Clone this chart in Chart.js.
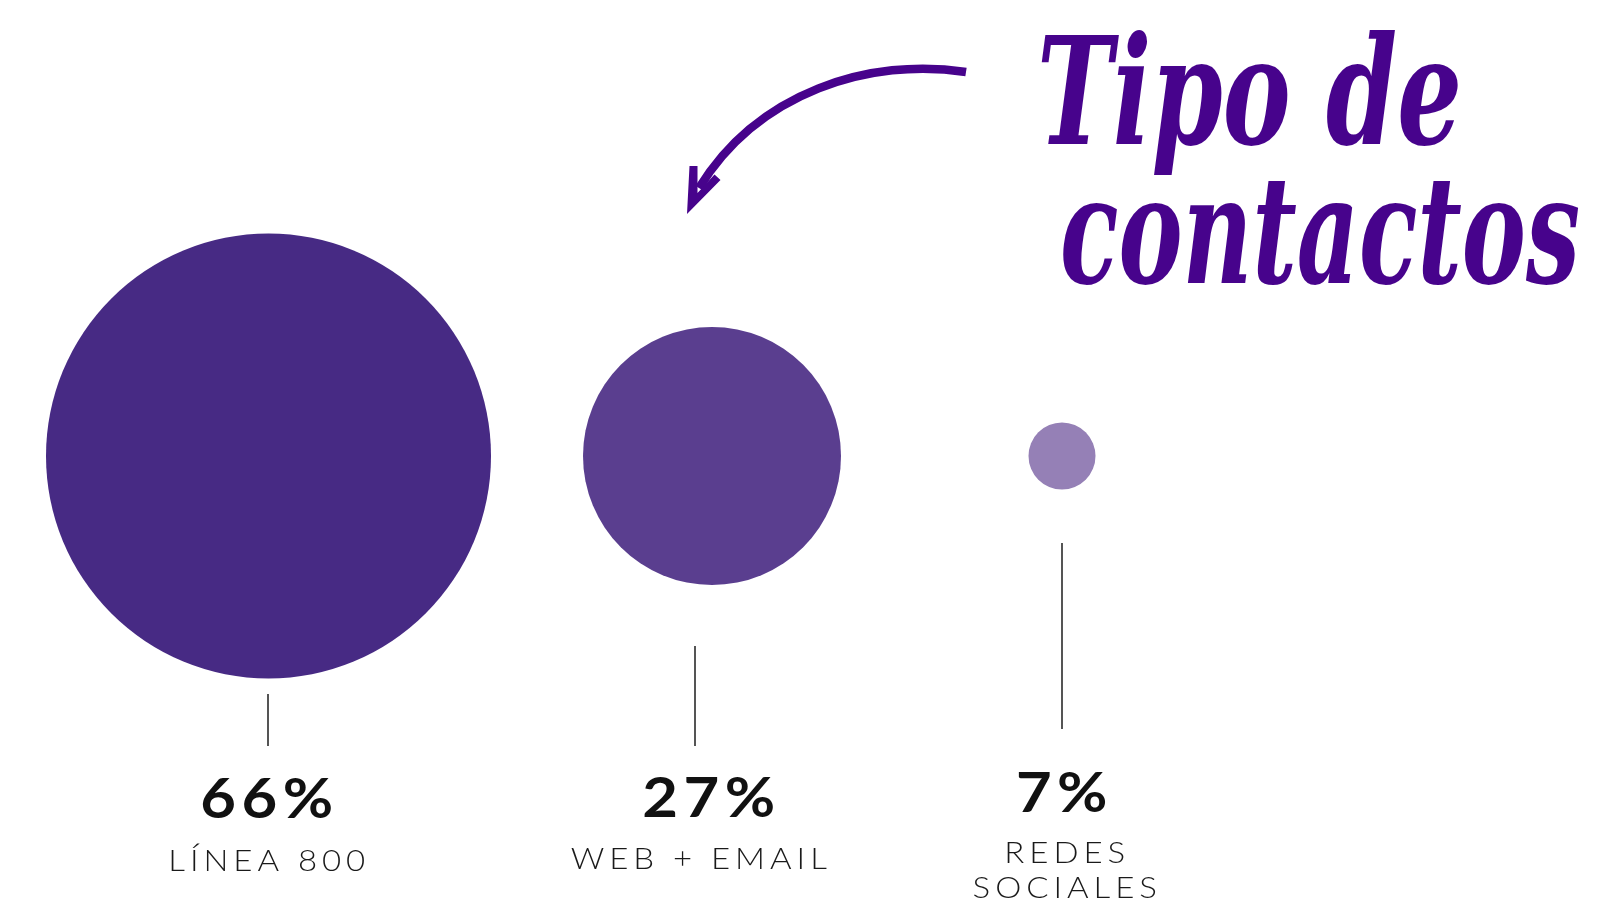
<!DOCTYPE html>
<html lang="es">
<head>
<meta charset="utf-8">
<title>Tipo de contactos</title>
<script src="https://cdn.jsdelivr.net/npm/chart.js@4.4.1/dist/chart.umd.min.js"></script>
<style>
  html, body { margin: 0; padding: 0; background: #fff; overflow: hidden; }
  #wrap { width: 1614px; height: 908px; }
</style>
</head>
<body>
<div id="wrap"><canvas id="contactChart" width="1614" height="908"></canvas></div>
<script>
// datos
const categories = ["LÍNEA 800", "WEB + EMAIL", "REDES SOCIALES"];
const shares = [66, 27, 7];
const labelLines = [["LÍNEA 800"], ["WEB + EMAIL"], ["REDES", "SOCIALES"]];
const titleLines = ["Tipo de", "contactos"];

// layout (x en unidades de la escala 0..1614)
const bubbleX = [268.5, 712, 1062];
const bubbleY = 456;
const bubbleR = [222.5, 129, 33.5];
const colors = ["#472a84", "#5a3e8f", "#9580b6"];
const leaderX = [268, 695, 1062];
const leaderTop = [694, 646, 543];
const leaderBottom = [746, 746, 729];
const pctX = [267, 709, 1062];
const pctBase = [818, 817, 812];
const labelX = [267, 699, 1065];
const labelBase = [[871], [869], [863, 898]];

const PURPLE = "#47038c";

function drawFitted(ctx, text, left, right, baseline) {
  ctx.save();
  ctx.font = "italic bold 150px 'DejaVu Serif'";
  ctx.textAlign = "left";
  ctx.textBaseline = "alphabetic";
  const w = ctx.measureText(text).width;
  ctx.translate(left, baseline);
  ctx.scale((right - left) / w, 1);
  ctx.fillStyle = PURPLE;
  ctx.fillText(text, 0, 0);
  ctx.restore();
}

function drawArrow(ctx) {
  ctx.save();
  ctx.strokeStyle = PURPLE;
  ctx.fillStyle = PURPLE;
  ctx.lineWidth = 8.5;
  ctx.beginPath();
  ctx.moveTo(966, 72);
  ctx.bezierCurveTo(870, 57, 758, 92, 699, 188);
  ctx.stroke();

  // punta
  ctx.beginPath();
  ctx.moveTo(689.5, 166);
  ctx.lineTo(697.5, 166);
  ctx.lineTo(697.5, 193);
  ctx.lineTo(714.5, 174.5);
  ctx.lineTo(720.5, 180);
  ctx.lineTo(687, 214);
  ctx.closePath();
  ctx.fill();
  ctx.restore();
}

// texto centrado con escala horizontal
function drawWide(ctx, text, x, y, sx, spacing) {
  ctx.save();
  ctx.translate(x + spacing / 2, y);
  ctx.scale(sx, 1);
  ctx.fillText(text, 0, 0);
  ctx.restore();
}

const annotationPlugin = {
  id: "annotations",
  afterDatasetsDraw(chart) {
    const ctx = chart.ctx;
    const xs = chart.scales.x;
    const ys = chart.scales.y;

    ctx.save();
    // lineas guia
    ctx.strokeStyle = "#555555";
    ctx.lineWidth = 2;
    leaderX.forEach((x, i) => {
      const px = xs.getPixelForValue(x);
      ctx.beginPath();
      ctx.moveTo(px, ys.getPixelForValue(leaderTop[i]));
      ctx.lineTo(px, ys.getPixelForValue(leaderBottom[i]));
      ctx.stroke();
    });

    ctx.textAlign = "center";
    ctx.textBaseline = "alphabetic";

    // porcentajes
    ctx.fillStyle = "#111111";
    ctx.font = "bold 56px Lato";
    ctx.letterSpacing = "5px";
    shares.forEach((v, i) => {
      drawWide(ctx, v + "%", xs.getPixelForValue(pctX[i]), ys.getPixelForValue(pctBase[i]), 1.1, 5);
    });

    // etiquetas
    ctx.fillStyle = "#1a1a1a";
    ctx.font = "300 30px Lato";
    ctx.letterSpacing = "4.5px";
    labelLines.forEach((lines, i) => {
      lines.forEach((line, j) => {
        drawWide(ctx, line, xs.getPixelForValue(labelX[i]), ys.getPixelForValue(labelBase[i][j]), 1.1, 4.5);
      });
    });
    ctx.restore();

    // titulo y flecha
    drawFitted(ctx, titleLines[0], 1037, 1462, 144);
    drawFitted(ctx, titleLines[1], 1060, 1580, 283);
    drawArrow(ctx);
  },
};

const ctx = document.getElementById("contactChart").getContext("2d");

new Chart(ctx, {
  type: "bubble",
  data: {
    labels: categories,
    datasets: [{
      data: shares.map((v, i) => ({ x: bubbleX[i], y: bubbleY, r: bubbleR[i] })),
      backgroundColor: colors,
      borderWidth: 0,
      hoverRadius: 0,
      clip: false,
    }],
  },
  options: {
    responsive: false,
    devicePixelRatio: 1,
    animation: false,
    events: [],
    layout: { padding: 0, autoPadding: false },
    plugins: {
      legend: { display: false },
      tooltip: { enabled: false },
    },
    scales: {
      x: { type: "linear", display: false, min: 0, max: 1614 },
      y: { type: "linear", display: false, min: 0, max: 908, reverse: true },
    },
  },
  plugins: [annotationPlugin],
});
</script>
</body>
</html>
